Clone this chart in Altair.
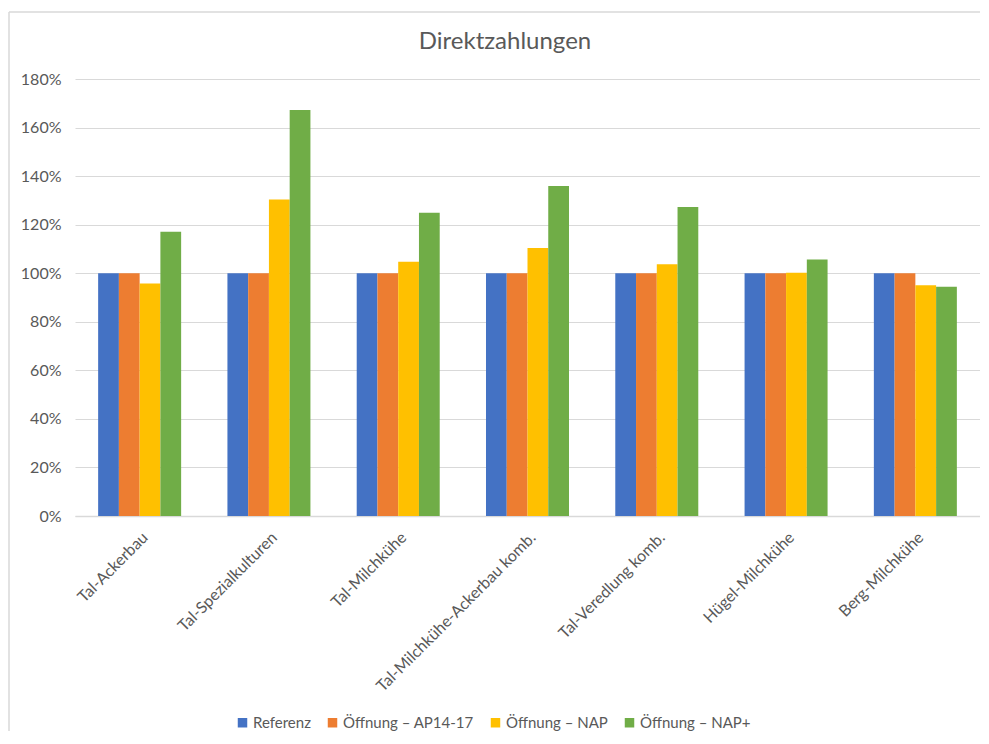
import altair as alt
import pandas as pd

title_text = "Direktzahlungen"
categories = ["Tal-Ackerbau", "Tal-Spezialkulturen", "Tal-Milchkühe",
              "Tal-Milchkühe-Ackerbau komb.", "Tal-Veredlung komb.",
              "Hügel-Milchkühe", "Berg-Milchkühe"]
series = ["Referenz", "Öffnung – AP14-17", "Öffnung – NAP", "Öffnung – NAP+"]
referenz = [1.00, 1.00, 1.00, 1.00, 1.00, 1.00, 1.00]
ap1417 = [1.00, 1.00, 1.00, 1.00, 1.00, 1.00, 1.00]
nap = [0.958, 1.304, 1.047, 1.104, 1.037, 1.002, 0.950]
napplus = [1.171, 1.672, 1.249, 1.359, 1.273, 1.057, 0.944]
colors = ["#4472C4", "#ED7D31", "#FFC000", "#70AD47"]

rows = []
for s, vals in zip(series, [referenz, ap1417, nap, napplus]):
    for c, v in zip(categories, vals):
        rows.append({"Kategorie": c, "Serie": s, "Wert": v})
df = pd.DataFrame(rows)

FONT = "Lato"
GREY = "#595959"

bars = alt.Chart(df).mark_bar().encode(
    x=alt.X("Kategorie:N", sort=categories, title=None,
            scale=alt.Scale(paddingInner=0.358, paddingOuter=0.179),
            axis=alt.Axis(labelAngle=-45, labelFont=FONT, labelFontSize=16,
                          labelColor=GREY, ticks=False, domainColor="#d9d9d9",
                          domainWidth=1.5, labelPadding=13, labelLimit=400)),
    xOffset=alt.XOffset("Serie:N", sort=series,
                        scale=alt.Scale(paddingInner=0, paddingOuter=0)),
    y=alt.Y("Wert:Q", title=None,
            scale=alt.Scale(domain=[0, 1.8], nice=False),
            axis=alt.Axis(format=".0%", values=[i / 5 for i in range(10)],
                          labelFont=FONT, labelFontSize=16, labelColor=GREY,
                          ticks=False, domain=False, gridColor="#d9d9d9",
                          gridWidth=1.2, labelPadding=14)),
    color=alt.Color("Serie:N", sort=series,
                    scale=alt.Scale(domain=series, range=colors),
                    legend=alt.Legend(title=None, orient="none", direction="horizontal",
                                      legendX=160, legendY=636,
                                      symbolType="square", symbolSize=90,
                                      symbolStrokeWidth=0,
                                      labelFont=FONT, labelFontSize=15,
                                      labelColor=GREY, columnPadding=14,
                                      labelOffset=3)),
)

one = pd.DataFrame({"a": [0]})
border_top = alt.Chart(one).mark_rule(color="#d9d9d9", strokeWidth=1.5).encode(
    x=alt.value(-66), x2=alt.value(905), y=alt.value(-67))
border_left = alt.Chart(one).mark_rule(color="#d9d9d9", strokeWidth=1.5).encode(
    x=alt.value(-66), y=alt.value(-67), y2=alt.value(652))

title = alt.Chart(pd.DataFrame({"t": [title_text]})).mark_text(
    font=FONT, fontSize=24, color=GREY, baseline="middle", align="center"
).encode(text="t:N", x=alt.value(430), y=alt.value(-37))

chart = alt.layer(border_top, border_left, title, bars).properties(
    width=905, height=437,
    autosize=alt.AutoSizeParams(type="none"),
    padding={"left": 67, "top": 71, "right": 0, "bottom": 216},
).configure_view(stroke=None)

chart.save("out.html", embed_options={"renderer": "svg", "actions": False})
